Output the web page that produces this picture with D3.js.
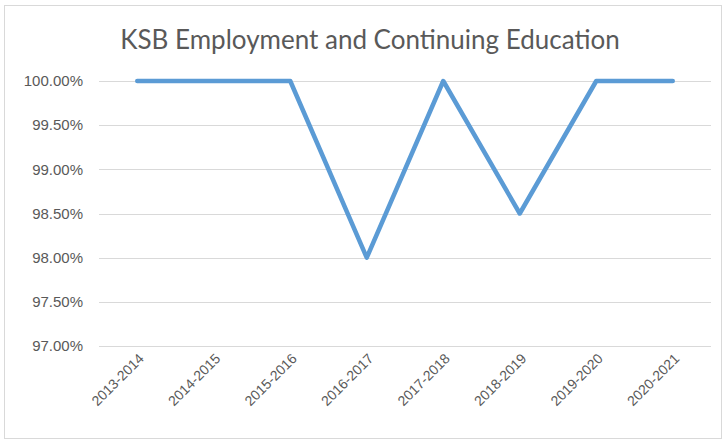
<!DOCTYPE html>
<html lang="en">
<head>
	<meta charset="UTF-8">
	<title>KSB Employment</title>
	<script src="https://cdn.jsdelivr.net/npm/d3@7"></script>
	<style>
		body{ margin:0; background:#fff; }
		svg{ display:block; font-family:Lato, "Open Sans", sans-serif; }
		.grid line{ stroke:#d9d9d9; stroke-width:1; }
		.tick text{ fill:#595959; font-size:15px; }
		.xaxis .tick text{ font-size:14px; }
	</style>
</head>
<body>
	<svg id="svg" width="726" height="443"></svg>
	<script>
		var years = ["2013-2014","2014-2015","2015-2016","2016-2017","2017-2018","2018-2019","2019-2020","2020-2021"];
		var rates = [1.00, 1.00, 1.00, 0.98, 1.00, 0.985, 1.00, 1.00];
		var yTicks = [0.97, 0.975, 0.98, 0.985, 0.99, 0.995, 1.00];

		var svg = d3.select("svg"),
			mLeft = 99, mRight = 711, mTop = 81, mBottom = 346;

		svg.append("rect")
			.attr("x",4.5).attr("y",5.5)
			.attr("width",717).attr("height",433)
			.attr("fill","#fff").attr("stroke","#d9d9d9");

		var x = d3.scaleBand().domain(years).range([mLeft,mRight]);
		var y = d3.scaleLinear().domain([0.97,1.00]).range([mBottom,mTop]);

		// gridlines
		svg.append("g").attr("class","grid")
			.selectAll("line").data(yTicks).enter().append("line")
			.attr("x1",mLeft).attr("x2",mRight)
			.attr("y1",(d)=>{return Math.round(y(d))+0.5;})
			.attr("y2",(d)=>{return Math.round(y(d))+0.5;});

		var yAxis = svg.append("g")
			.attr("transform","translate(83,0)")
			.call(d3.axisLeft(y).tickValues(yTicks).tickFormat(d3.format(".2%")).tickSize(0).tickPadding(0));
		yAxis.select(".domain").remove();

		var xAxis = svg.append("g")
			.attr("class","xaxis")
			.attr("transform","translate(0,"+(mBottom+10)+")")
			.call(d3.axisBottom(x).tickSize(0).tickPadding(0));
		xAxis.select(".domain").remove();
		xAxis.selectAll("text")
			.attr("text-anchor","end")
			.attr("y",0)
			.attr("dy","0.35em")
			.attr("transform","translate(4,0) rotate(-45)");

		var line = d3.line()
			.x((d,i)=>{return x(years[i])+x.bandwidth()/2;})
			.y((d)=>{return y(d);});

		svg.append("path")
			.datum(rates)
			.attr("d",line)
			.attr("fill","none")
			.attr("stroke","#5b9bd5")
			.attr("stroke-width",4.5)
			.attr("stroke-linejoin","round")
			.attr("stroke-linecap","round");

		svg.append("text")
			.attr("x",370).attr("y",49)
			.attr("text-anchor","middle")
			.attr("fill","#595959")
			.style("font-size","26px")
			.text("KSB Employment and Continuing Education");
	</script>
</body>
</html>
